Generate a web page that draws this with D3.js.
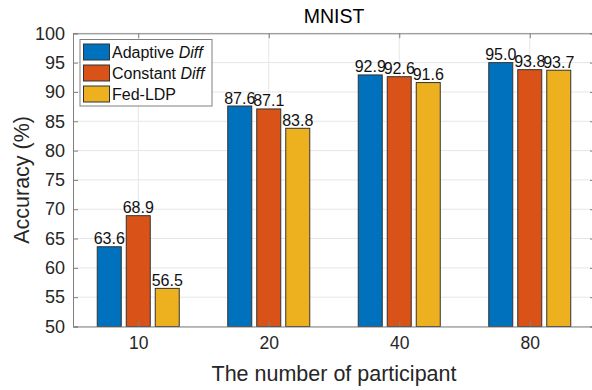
<!DOCTYPE html>
<html><head><meta charset="utf-8">
<script src="https://cdn.jsdelivr.net/npm/d3@7"></script>
<style>body{margin:0;background:#fff}svg{display:block}text{font-family:"Liberation Sans",Arial,Helvetica,sans-serif}</style>
</head><body>
<svg id="c" width="592" height="390"></svg>
<script>
const categories = ["10", "20", "40", "80"];
const seriesNames = ["Adaptive", "Constant", "Fed-LDP"];
const adaptive = [63.6, 87.6, 92.9, 95.0];
const constant = [68.9, 87.1, 92.6, 93.8];
const fedLDP = [56.5, 83.8, 91.6, 93.7];
const yTicks = [50, 55, 60, 65, 70, 75, 80, 85, 90, 95, 100];
const colors = ["#0072BD", "#D95319", "#EDB120"];
const series = [adaptive, constant, fedLDP];

const svg = d3.select("#c");
const L = 73, R = 595, T = 33.3, B = 326.5;
const x = d3.scaleLinear().domain([0.5, categories.length + 0.5]).range([L, R]);
const y = d3.scaleLinear().domain([50, 100]).range([B, T]);
const barW = 24, off = 29;

// grid
const g = svg.append("g");
g.selectAll(".hg").data(yTicks).join("line")
  .attr("x1", L).attr("x2", R).attr("y1", d => y(d)).attr("y2", d => y(d))
  .attr("stroke", "#e6e6e6").attr("stroke-width", 1);
g.selectAll(".vg").data(categories).join("line")
  .attr("x1", (d, i) => x(i + 1)).attr("x2", (d, i) => x(i + 1)).attr("y1", T).attr("y2", B)
  .attr("stroke", "#e6e6e6").attr("stroke-width", 1);

// bars
series.forEach((s, si) => {
  svg.append("g").selectAll("rect").data(s).join("rect")
    .attr("x", (d, i) => x(i + 1) + (si - 1) * off - barW / 2)
    .attr("y", d => y(d))
    .attr("width", barW)
    .attr("height", d => B - y(d))
    .attr("fill", colors[si])
    .attr("stroke", "#333").attr("stroke-width", 1);
  svg.append("g").selectAll("text").data(s).join("text")
    .attr("x", (d, i) => x(i + 1) + (si - 1) * off)
    .attr("y", d => y(d) - 2.5)
    .attr("text-anchor", "middle")
    .attr("font-size", 16).attr("fill", "#111")
    .text(d => d.toFixed(1));
});

// axes
const axCol = "#808080";
const yAxis = d3.axisLeft(y).tickValues(yTicks).tickSize(-5).tickPadding(8);
const ya = svg.append("g").attr("transform", `translate(${L},0)`).call(yAxis);
ya.select(".domain").attr("stroke", axCol);
ya.selectAll(".tick line").attr("stroke", axCol);
ya.selectAll(".tick text").attr("font-size", 18).attr("fill", "#262626");

const yAxisR = d3.axisRight(y).tickValues(yTicks).tickSize(-5).tickFormat("");
const yr = svg.append("g").attr("transform", `translate(${R},0)`).call(yAxisR);
yr.select(".domain").attr("stroke", axCol);
yr.selectAll(".tick line").attr("stroke", axCol);

const xAxis = d3.axisBottom(x).tickValues([1, 2, 3, 4]).tickFormat((d) => categories[d - 1]).tickSize(-5).tickPadding(10);
const xa = svg.append("g").attr("transform", `translate(0,${B})`).call(xAxis);
xa.select(".domain").attr("stroke", axCol);
xa.selectAll(".tick line").attr("stroke", axCol);
xa.selectAll(".tick text").attr("font-size", 17.5).attr("fill", "#262626");

const xAxisT = d3.axisTop(x).tickValues([1, 2, 3, 4]).tickFormat("").tickSize(-5);
const xt = svg.append("g").attr("transform", `translate(0,${T})`).call(xAxisT);
xt.select(".domain").attr("stroke", axCol);
xt.selectAll(".tick line").attr("stroke", axCol);

// titles
svg.append("text").attr("x", (L + R) / 2).attr("y", 22.5).attr("text-anchor", "middle")
  .attr("font-size", 19.5).attr("fill", "#000").text("MNIST");
svg.append("text").attr("x", (L + R) / 2).attr("y", 381).attr("text-anchor", "middle")
  .attr("font-size", 21.5).attr("fill", "#262626").text("The number of participant");
svg.append("text").attr("transform", `translate(28.5,${(T + B) / 2}) rotate(-90)`).attr("text-anchor", "middle")
  .attr("font-size", 21.5).attr("fill", "#262626").text("Accuracy (%)");

// legend
const lg = svg.append("g");
lg.append("rect").attr("x", 80).attr("y", 39.5).attr("width", 132).attr("height", 66.5)
  .attr("fill", "#fff").attr("stroke", "#808080").attr("stroke-width", 1);
const rowsY = [52, 73, 94];
seriesNames.forEach((n, i) => {
  lg.append("rect").attr("x", 83.5).attr("y", rowsY[i] - 8).attr("width", 26).attr("height", 16)
    .attr("fill", colors[i]).attr("stroke", "#333");
  const t = lg.append("text").attr("x", 112).attr("y", rowsY[i] + 5.5).attr("font-size", 16).attr("fill", "#111");
  if (i < 2) {
    t.append("tspan").text(n + " ");
    t.append("tspan").attr("font-style", "italic").text("Diff");
  } else t.text(n);
});
</script>
</body></html>
